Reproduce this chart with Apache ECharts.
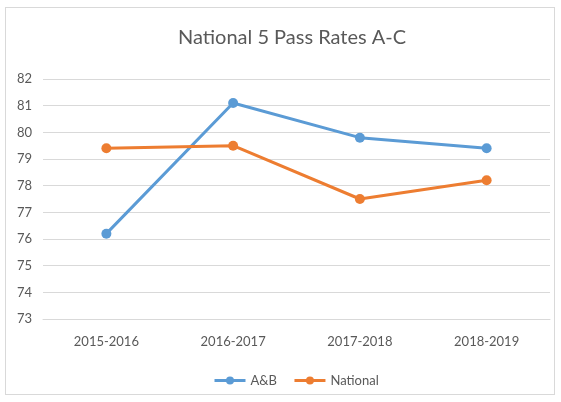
<!DOCTYPE html>
<html>
<head>
<meta charset="utf-8">
<script src="https://cdn.jsdelivr.net/npm/echarts@6/dist/echarts.min.js"></script>
<style>
  html, body { margin: 0; padding: 0; background: #fff; }
  #frame {
    position: absolute; left: 5px; top: 7px; width: 550px; height: 388px;
    border: 1px solid #d9d9d9; box-sizing: border-box;
  }
  #chart-container { position: absolute; left: 0; top: 0; width: 561px; height: 402px; }
</style>
</head>
<body>
<div id="frame"></div>
<div id="chart-container"></div>
<script>
var years = ['2015-2016', '2016-2017', '2017-2018', '2018-2019'];
var abRates = [76.2, 81.1, 79.8, 79.4];
var nationalRates = [79.4, 79.5, 77.5, 78.2];

var font = 'Lato, "Open Sans", sans-serif';
var grey = '#595959';

var myChart = echarts.init(document.getElementById('chart-container'));
var option = {
  animation: false,
  title: {
    text: 'National 5 Pass Rates A-C',
    left: 173,
    top: 23,
    textStyle: { fontFamily: font, fontSize: 20, fontWeight: 'normal', color: grey }
  },
  legend: {
    bottom: 10,
    left: 208,
    itemWidth: 31,
    itemHeight: 10,
    itemGap: 16,
    lineStyle: { width: 3 },
    textStyle: { fontFamily: font, fontSize: 13, color: grey },
    data: ['A&B', 'National']
  },
  grid: { left: 43, right: 11, top: 79, bottom: 83 },
  xAxis: {
    type: 'category',
    data: years,
    axisLine: { show: true, lineStyle: { color: '#d9d9d9' } },
    axisTick: { show: false },
    axisLabel: { fontFamily: font, fontSize: 13, color: grey, margin: 16 }
  },
  yAxis: {
    type: 'value',
    min: 73,
    max: 82,
    interval: 1,
    axisLine: { show: false },
    axisTick: { show: false },
    splitLine: { lineStyle: { color: '#d9d9d9' } },
    axisLabel: { fontFamily: font, fontSize: 13, color: grey, margin: 11 }
  },
  series: [
    {
      name: 'A&B',
      type: 'line',
      data: abRates,
      symbol: 'circle',
      symbolSize: 10,
      itemStyle: { color: '#5B9BD5' },
      lineStyle: { width: 3 }
    },
    {
      name: 'National',
      type: 'line',
      data: nationalRates,
      symbol: 'circle',
      symbolSize: 10,
      itemStyle: { color: '#ED7D31' },
      lineStyle: { width: 3 }
    }
  ]
};
myChart.setOption(option);
</script>
</body>
</html>
